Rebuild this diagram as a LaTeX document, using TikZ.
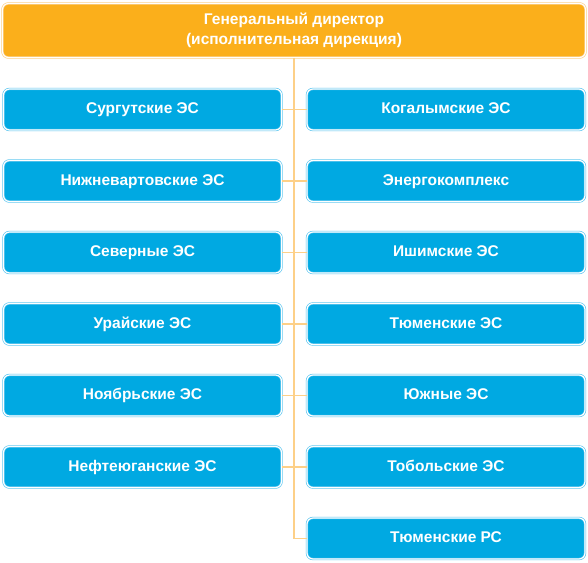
\documentclass[tikz,border=0pt]{standalone}
\usepackage{fontspec}
\setmainfont{Liberation Sans}

\definecolor{headfill}{HTML}{FBAF1B}
\definecolor{headline}{HTML}{FCCB7A}
\definecolor{unitfill}{HTML}{00A9E2}
\definecolor{unitline}{HTML}{4FC1EE}
\definecolor{linkcol}{HTML}{FDD088}

\begin{document}
\begin{tikzpicture}[
    x=1pt, y=-1pt,
    % Define styles
    headbox/.style={
        rectangle,
        rounded corners=6pt,
        fill=headfill,
        draw=headline,
        line width=0.6pt,
        double=white,
        double distance=1.2pt,
        minimum width=583pt,
        minimum height=54pt,
        align=center,
        text=white,
        font=\fontsize{15.5}{19.5}\selectfont\bfseries
    },
    unitbox/.style={
        rectangle,
        rounded corners=6pt,
        fill=unitfill,
        draw=unitline,
        line width=0.6pt,
        double=white,
        double distance=1.2pt,
        minimum width=278pt,
        minimum height=41pt,
        text height=11pt,
        text depth=3pt,
        text=white,
        font=\fontsize{15.5}{18}\selectfont\bfseries
    },
    link/.style={
        linkcol,
        line width=1.5pt
    }
]
    \useasboundingbox (0,0) rectangle (588,562);

    % --- Head ---
    \node[headbox] (head) at (294, 30.5) {Генеральный директор\\(исполнительная дирекция)};

    % --- Trunk ---
    \coordinate (top) at (294, 59);
    \coordinate (bottom) at (294, 538.5);

    % --- Left Column ---
    \node[unitbox] (l1) at (142.5, 109.5) {Сургутские ЭС};
    \node[unitbox] (l2) at (142.5, 181)   {Нижневартовские ЭС};
    \node[unitbox] (l3) at (142.5, 252.5) {Северные ЭС};
    \node[unitbox] (l4) at (142.5, 324)   {Урайские ЭС};
    \node[unitbox] (l5) at (142.5, 395.5) {Ноябрьские ЭС};
    \node[unitbox] (l6) at (142.5, 467)   {Нефтеюганские ЭС};

    % --- Right Column ---
    \node[unitbox] (r1) at (446, 109.5) {Когалымские ЭС};
    \node[unitbox] (r2) at (446, 181)   {Энергокомплекс};
    \node[unitbox] (r3) at (446, 252.5) {Ишимские ЭС};
    \node[unitbox] (r4) at (446, 324)   {Тюменские ЭС};
    \node[unitbox] (r5) at (446, 395.5) {Южные ЭС};
    \node[unitbox] (r6) at (446, 467)   {Тобольские ЭС};
    \node[unitbox] (r7) at (446, 538.5) {Тюменские РС};

    % Vertical trunk from the head down to the last unit
    \draw[link] (head.south -| top) -- (bottom);

    % Side branches: each left unit to its right neighbour
    \foreach \n in {1,...,6} {
        \draw[link] (l\n.east) -- (r\n.west);
    }
    % Last unit has no left neighbour
    \draw[link] (bottom) -- (r7.west);

\end{tikzpicture}
\end{document}
